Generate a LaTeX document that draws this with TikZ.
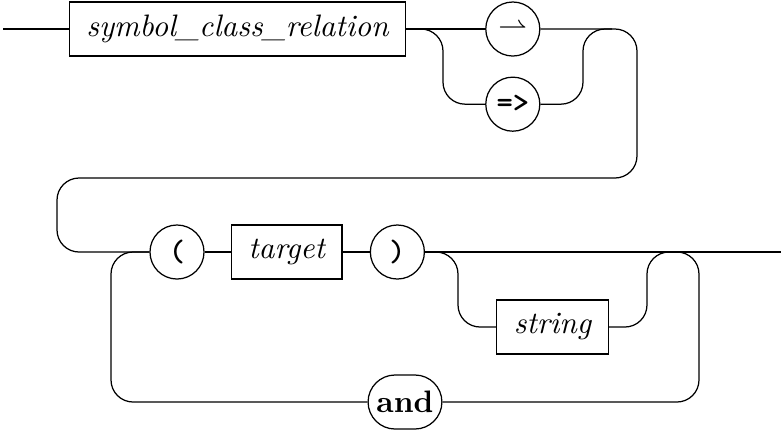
\documentclass[tikz,border=0pt]{standalone}
\usepackage{fontspec}
\usetikzlibrary{positioning}

\begin{document}
\begin{tikzpicture}[
  x=0.322pt, y=-0.322pt,
  node distance=6.4pt and 9pt,
  nterm/.style={rectangle, draw, minimum height=17.4pt, inner xsep=5.5pt,
                font=\itshape},
  term/.style={circle, draw, minimum size=17.4pt, inner sep=0pt,
               font=\ttfamily\bfseries},
  kw/.style={rectangle, rounded corners=8.7pt, draw, minimum height=17.4pt,
             inner xsep=2.7pt, font=\bfseries},
  rail/.style={rounded corners=7.1pt}
]
  \useasboundingbox (0,0) rectangle (782,430);

  % first row: relation and arrow choice
  \node[nterm] (rel) at (237.5,29) {symbol\_class\_relation};
  \node[term, right=25.4pt of rel] (neg) {\small$\rightharpoonup$};
  \node[term, below=of neg] (impl) {=>};

  % second row: target list
  \node[term] (lpar) at (177,252) {(};
  \node[nterm, right=8.4pt of lpar] (target) {target};
  \node[term, right=8.7pt of target] (rpar) {)};
  \node[nterm] (str) at (552.5,327) {string};
  \node[kw] (and) at (405,402) {and};

  \coordinate (start)  at (3,29);
  \coordinate (splitA) at (443,29);
  \coordinate (joinA)  at (583,29);
  \coordinate (mergeA) at (612,29);
  \coordinate (wrapNE) at (637,29);
  \coordinate (wrapSE) at (637,178);
  \coordinate (wrapSW) at (57,178);
  \coordinate (wrapW)  at (57,252);
  \coordinate (splitB) at (458,252);
  \coordinate (joinB)  at (647,252);
  \coordinate (mergeB) at (673,252);
  \coordinate (loopE)  at (699,252);
  \coordinate (loopW)  at (111,252);
  \coordinate (end)    at (781,252);

  \draw (start) -- (rel);
  \draw (rel) -- (neg);
  \draw[rail] (rel.east) -- (splitA) -- (splitA |- impl) -- (impl);
  \draw[rail] (impl) -- (joinA |- impl) -- (joinA) -- (mergeA);
  \draw[rail] (neg) -- (wrapNE) -- (wrapSE) -- (wrapSW) -- (wrapW) -- (lpar);

  \draw (lpar) -- (target);
  \draw (target) -- (rpar);
  \draw (rpar) -- (end);
  \draw[rail] (rpar.east) -- (splitB) -- (splitB |- str) -- (str);
  \draw[rail] (str) -- (joinB |- str) -- (joinB) -- (mergeB);

  % repetition loop
  \draw[rail] (mergeB) -- (loopE) -- (loopE |- and) -- (and);
  \draw[rail] (and) -- (loopW |- and) -- (loopW) -- (lpar.west);

\end{tikzpicture}
\end{document}
